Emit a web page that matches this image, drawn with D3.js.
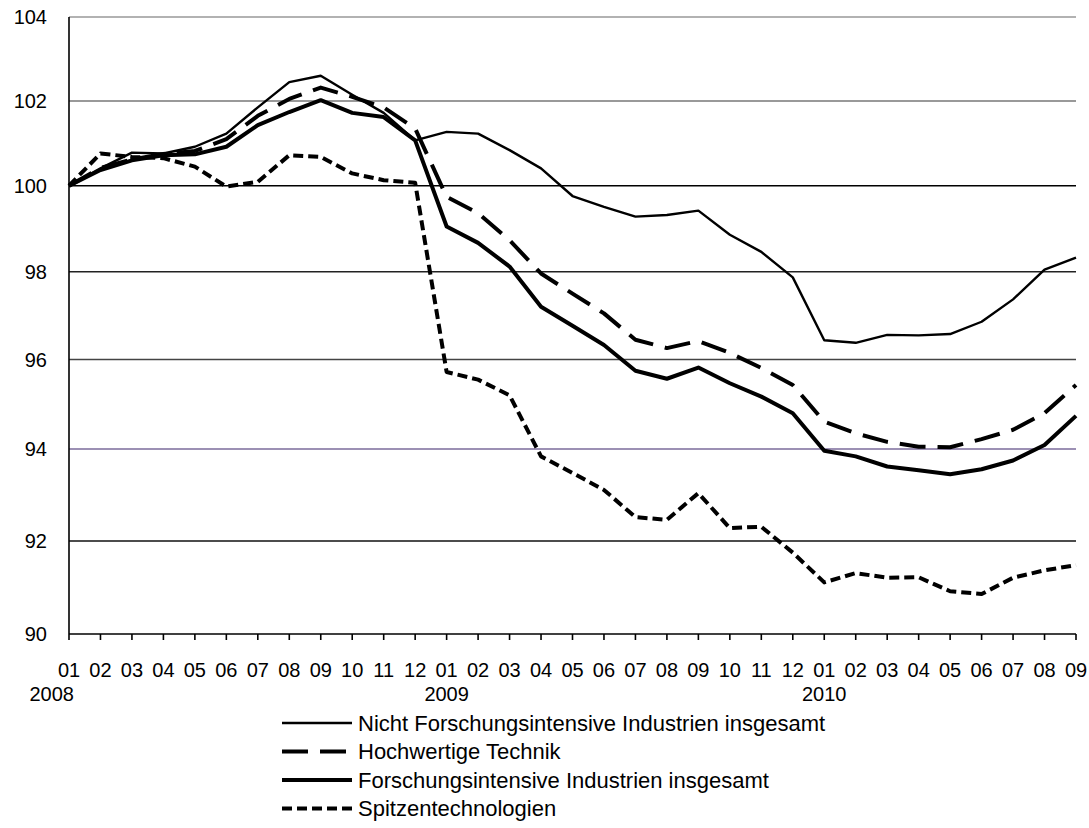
<!DOCTYPE html>
<html>
<head>
<meta charset="utf-8">
<script src="https://cdn.jsdelivr.net/npm/d3@7"></script>
<style>
  body { margin: 0; background: #fff; }
  text { font-family: Arial, "Liberation Sans", sans-serif; fill: #000; }
</style>
</head>
<body>
<script>
// months along the axis, Jan 2008 .. Sep 2010
var months = ["01","02","03","04","05","06","07","08","09","10","11","12",
              "01","02","03","04","05","06","07","08","09","10","11","12",
              "01","02","03","04","05","06","07","08","09"];
var years = ["2008", "2009", "2010"];
var yearIdx = [0, 12, 24];
var yTicks = [90, 92, 94, 96, 98, 100, 102, 104];

var nicht = [100, 100.41, 100.78, 100.76, 100.92, 101.23, 101.85, 102.45, 102.6, 102.15, 101.72, 101.07,
             101.27, 101.23, 100.84, 100.41, 99.76, 99.51, 99.28, 99.32, 99.42, 98.86, 98.46, 97.87,
             96.44, 96.38, 96.56, 96.55, 96.58, 96.86, 97.37, 98.05, 98.33];
var hoch = [100, 100.42, 100.62, 100.75, 100.82, 101.1, 101.65, 102.05, 102.32, 102.1, 101.85, 101.35,
            99.74, 99.36, 98.73, 97.96, 97.5, 97.05, 96.45, 96.26, 96.42, 96.15, 95.81, 95.43,
            94.61, 94.35, 94.16, 94.05, 94.04, 94.22, 94.43, 94.8, 95.43];
var forsch = [100, 100.37, 100.6, 100.72, 100.74, 100.92, 101.43, 101.74, 102.02, 101.72, 101.62, 101.07,
              99.05, 98.67, 98.12, 97.2, 96.77, 96.33, 95.75, 95.57, 95.82, 95.47, 95.17, 94.8,
              93.96, 93.84, 93.62, 93.54, 93.45, 93.56, 93.75, 94.09, 94.74];
var spitzen = [100, 100.76, 100.68, 100.65, 100.45, 99.98, 100.09, 100.72, 100.68, 100.29, 100.13, 100.07,
               95.72, 95.55, 95.2, 93.84, 93.48, 93.11, 92.52, 92.46, 93.04, 92.28, 92.31, 91.75,
               91.11, 91.31, 91.21, 91.22, 90.92, 90.86, 91.21, 91.37, 91.48];

var seriesNames = ["Nicht Forschungsintensive Industrien insgesamt", "Hochwertige Technik",
                   "Forschungsintensive Industrien insgesamt", "Spitzentechnologien"];

var w = 1089, h = 828;
var fs = 20;

// line styles per series
var styles = [
  {width: 2.4, dash: null},
  {width: 4, dash: "26,12"},
  {width: 4, dash: null},
  {width: 4, dash: "10,5"}
];
var series = [nicht, hoch, forsch, spitzen];

var svg = d3.select("body").append("svg").attr("width", w).attr("height", h);

var x = d3.scalePoint().domain(d3.range(months.length)).range([69, 1076]);
// gridlines in the picture are not evenly spaced, so a piecewise scale
var y = d3.scaleLinear().domain(yTicks).range([634, 541, 449, 359.5, 271.7, 185.7, 101, 17]);

var gridColor = {90: "#000", 92: "#111", 94: "#7b6b9b", 96: "#444", 98: "#222", 100: "#000", 102: "#777", 104: "#999"};

svg.append("g").selectAll("line")
  .data(yTicks.filter(function (d) { return d > 90; }))
  .enter().append("line")
    .attr("x1", 69).attr("x2", 1076)
    .attr("y1", function (d) { return y(d); })
    .attr("y2", function (d) { return y(d); })
    .attr("stroke", function (d) { return gridColor[d]; })
    .attr("stroke-width", 1.4);

// y labels
svg.append("g").selectAll("text")
  .data(yTicks)
  .enter().append("text")
    .attr("x", 47)
    .attr("y", function (d) { return y(d); })
    .attr("dy", "0.35em")
    .attr("text-anchor", "end")
    .style("font-size", fs + "px")
    .text(function (d) { return d; });

// axes
svg.append("line").attr("x1", 69).attr("x2", 69).attr("y1", y(104)).attr("y2", y(90))
  .attr("stroke", "#000").attr("stroke-width", 1.6);
svg.append("line").attr("x1", 69).attr("x2", 1076).attr("y1", y(90)).attr("y2", y(90))
  .attr("stroke", "#000").attr("stroke-width", 1.6);

svg.append("g").selectAll("line")
  .data(d3.range(months.length))
  .enter().append("line")
    .attr("x1", function (d) { return x(d); })
    .attr("x2", function (d) { return x(d); })
    .attr("y1", y(90)).attr("y2", y(90) + 6)
    .attr("stroke", "#000").attr("stroke-width", 1.6);

svg.append("g").selectAll("text")
  .data(months)
  .enter().append("text")
    .attr("x", function (d, i) { return x(i); })
    .attr("y", 670)
    .attr("dy", "0.35em")
    .attr("text-anchor", "middle")
    .style("font-size", fs + "px")
    .text(function (d) { return d; });

svg.append("g").selectAll("text")
  .data(years)
  .enter().append("text")
    .attr("x", function (d, i) { return i === 0 ? x(yearIdx[i]) + 5 : x(yearIdx[i]); })
    .attr("y", 694)
    .attr("dy", "0.35em")
    .attr("text-anchor", function (d, i) { return i === 0 ? "end" : "middle"; })
    .style("font-size", fs + "px")
    .text(function (d) { return d; });

var line = d3.line()
  .x(function (d, i) { return x(i); })
  .y(function (d) { return y(d); });

svg.append("g").selectAll("path")
  .data(series)
  .enter().append("path")
    .attr("d", line)
    .attr("fill", "none")
    .attr("stroke", "#000")
    .attr("stroke-linejoin", "round")
    .attr("stroke-width", function (d, i) { return styles[i].width; })
    .attr("stroke-dasharray", function (d, i) { return styles[i].dash; });

// legend
var leg = svg.append("g").selectAll("g")
  .data(seriesNames)
  .enter().append("g")
    .attr("transform", function (d, i) { return "translate(282," + (723 + i * 28.5) + ")"; });

leg.append("line")
  .attr("x1", 0).attr("x2", 70).attr("y1", 0).attr("y2", 0)
  .attr("stroke", "#000")
  .attr("stroke-width", function (d, i) { return styles[i].width; })
  .attr("stroke-dasharray", function (d, i) { return styles[i].dash; });

leg.append("text")
  .attr("x", 76).attr("y", 0).attr("dy", "0.35em")
  .style("font-size", "22px")
  .text(function (d) { return d; });
</script>
</body>
</html>
